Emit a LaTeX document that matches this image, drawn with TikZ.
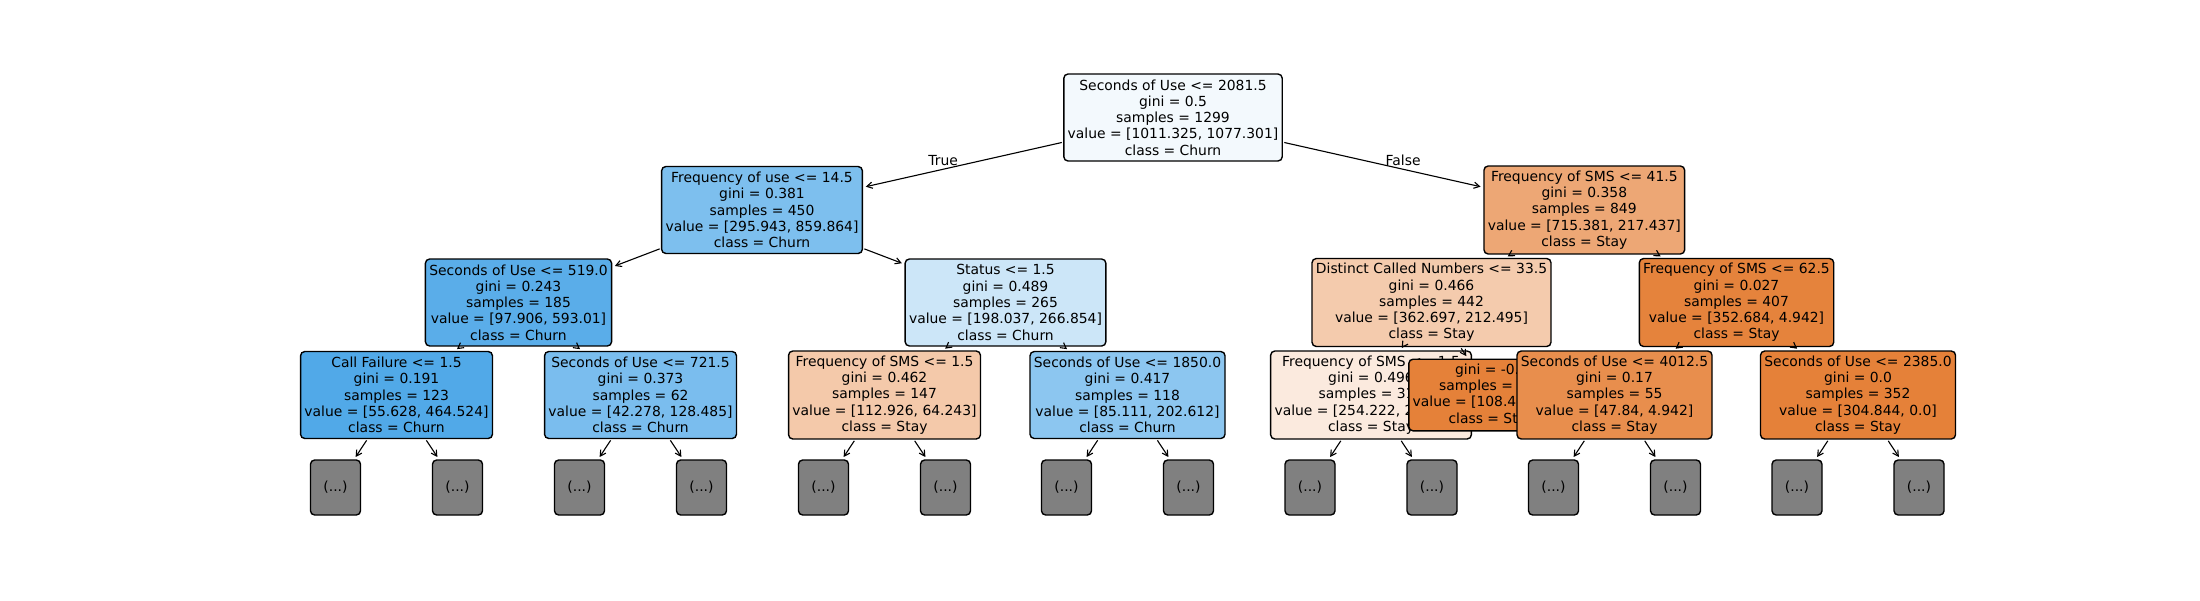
\documentclass[tikz,border=0pt]{standalone}
\usepackage{fontspec}
\setmainfont{DejaVu Sans}
\usetikzlibrary{positioning,arrows.meta}

\definecolor{colRoot}{RGB}{243,249,253}
\definecolor{colL}{RGB}{125,191,238}
\definecolor{colR}{RGB}{237,167,117}
\definecolor{colLL}{RGB}{90,173,233}
\definecolor{colLR}{RGB}{204,230,248}
\definecolor{colRL}{RGB}{244,203,173}
\definecolor{colRR}{RGB}{229,131,60}
\definecolor{colLLL}{RGB}{81,169,232}
\definecolor{colLLR}{RGB}{122,189,238}
\definecolor{colLRL}{RGB}{244,201,170}
\definecolor{colLRR}{RGB}{140,198,240}
\definecolor{colRLL}{RGB}{251,234,222}
\definecolor{colRLR}{RGB}{229,129,57}
\definecolor{colRRL}{RGB}{232,142,77}
\definecolor{colRRR}{RGB}{229,129,57}
\definecolor{colLeaf}{RGB}{128,128,128}

\begin{document}
\begin{tikzpicture}[x=0.72pt, y=-0.72pt,
  split/.style={draw=black, line width=1pt, rounded corners=3pt, align=center,
    inner xsep=2.8pt, minimum height=62.6pt, font=\fontsize{10}{11.74}\selectfont},
  pure/.style={split, minimum height=50.9pt},
  leaf/.style={draw=black, line width=1pt, rounded corners=3pt, fill=colLeaf,
    minimum width=36pt, minimum height=39.6pt, inner sep=0pt, font=\fontsize{10}{11.74}\selectfont},
  edge/.style={-{Straight Barb[length=4pt,width=4.5pt]}, line width=0.8pt,
    shorten >=2pt, shorten <=1pt},
  lbl/.style={font=\fontsize{10}{11.74}\selectfont, inner sep=1pt, above=1pt}]
\useasboundingbox (0,0) rectangle (2200,600);

\def\dy{92.5}
\def\ya{117.5}
\def\yb{\ya + \dy}
\def\yc{\ya + 2 * \dy}
\def\yd{\ya + 3 * \dy}
\def\ye{\ya + 4 * \dy}

\node[split, fill=colRoot] (root) at (1173, \ya) {Seconds of Use <= 2081.5\\gini = 0.5\\samples = 1299\\value = [1011.325, 1077.301]\\class = Churn};

\node[split, fill=colL] (l) at (762, \yb) {Frequency of use <= 14.5\\gini = 0.381\\samples = 450\\value = [295.943, 859.864]\\class = Churn};
\node[split, fill=colLL] (ll) at (518.5, \yc) {Seconds of Use <= 519.0\\gini = 0.243\\samples = 185\\value = [97.906, 593.01]\\class = Churn};
\node[split, fill=colLLL] (lll) at (396.5, \yd) {Call Failure <= 1.5\\gini = 0.191\\samples = 123\\value = [55.628, 464.524]\\class = Churn};
\node[leaf] (lll1) at (335.5, \ye) {(...)};
\node[leaf] (lll2) at (457.5, \ye) {(...)};
\node[split, fill=colLLR] (llr) at (640.5, \yd) {Seconds of Use <= 721.5\\gini = 0.373\\samples = 62\\value = [42.278, 128.485]\\class = Churn};
\node[leaf] (llr1) at (579.5, \ye) {(...)};
\node[leaf] (llr2) at (701.5, \ye) {(...)};
\node[split, fill=colLR] (lr) at (1005.5, \yc) {Status <= 1.5\\gini = 0.489\\samples = 265\\value = [198.037, 266.854]\\class = Churn};
\node[split, fill=colLRL] (lrl) at (884.5, \yd) {Frequency of SMS <= 1.5\\gini = 0.462\\samples = 147\\value = [112.926, 64.243]\\class = Stay};
\node[leaf] (lrl1) at (823.5, \ye) {(...)};
\node[leaf] (lrl2) at (945.5, \ye) {(...)};
\node[split, fill=colLRR] (lrr) at (1127.5, \yd) {Seconds of Use <= 1850.0\\gini = 0.417\\samples = 118\\value = [85.111, 202.612]\\class = Churn};
\node[leaf] (lrr1) at (1066.5, \ye) {(...)};
\node[leaf] (lrr2) at (1188.5, \ye) {(...)};

\node[split, fill=colR] (r) at (1584.3, \yb) {Frequency of SMS <= 41.5\\gini = 0.358\\samples = 849\\value = [715.381, 217.437]\\class = Stay};
\node[split, fill=colRL] (rl) at (1431.5, \yc) {Distinct Called Numbers <= 33.5\\gini = 0.466\\samples = 442\\value = [362.697, 212.495]\\class = Stay};
\node[split, fill=colRLL] (rll) at (1371, \yd) {Frequency of SMS <= 1.5\\gini = 0.496\\samples = 311\\value = [254.222, 212.495]\\class = Stay};
\node[leaf] (rll1) at (1310, \ye) {(...)};
\node[leaf] (rll2) at (1432, \ye) {(...)};
\node[pure, fill=colRLR] (rlr) at (1491.5, \yd) {gini = -0.0\\samples = 131\\value = [108.475, 0.0]\\class = Stay};
\node[split, fill=colRR] (rr) at (1736.5, \yc) {Frequency of SMS <= 62.5\\gini = 0.027\\samples = 407\\value = [352.684, 4.942]\\class = Stay};
\node[split, fill=colRRL] (rrl) at (1614.5, \yd) {Seconds of Use <= 4012.5\\gini = 0.17\\samples = 55\\value = [47.84, 4.942]\\class = Stay};
\node[leaf] (rrl1) at (1553.5, \ye) {(...)};
\node[leaf] (rrl2) at (1675.5, \ye) {(...)};
\node[split, fill=colRRR] (rrr) at (1858, \yd) {Seconds of Use <= 2385.0\\gini = 0.0\\samples = 352\\value = [304.844, 0.0]\\class = Stay};
\node[leaf] (rrr1) at (1797, \ye) {(...)};
\node[leaf] (rrr2) at (1919, \ye) {(...)};

\draw[edge] (root) -- node[lbl, pos=0.6] (true) {True} (l);
\draw[edge] (root) -- node[lbl, pos=0.6] (false) {False} (r);
\draw[edge] (l) -- (ll);
\draw[edge] (l) -- (lr);
\draw[edge] (ll) -- (lll);
\draw[edge] (ll) -- (llr);
\draw[edge] (lr) -- (lrl);
\draw[edge] (lr) -- (lrr);
\draw[edge] (r) -- (rl);
\draw[edge] (r) -- (rr);
\draw[edge] (rl) -- (rll);
\draw[edge] (rl) -- (rlr);
\draw[edge] (rr) -- (rrl);
\draw[edge] (rr) -- (rrr);
\draw[edge] (lll) -- (lll1);
\draw[edge] (lll) -- (lll2);
\draw[edge] (llr) -- (llr1);
\draw[edge] (llr) -- (llr2);
\draw[edge] (lrl) -- (lrl1);
\draw[edge] (lrl) -- (lrl2);
\draw[edge] (lrr) -- (lrr1);
\draw[edge] (lrr) -- (lrr2);
\draw[edge] (rll) -- (rll1);
\draw[edge] (rll) -- (rll2);
\draw[edge] (rrl) -- (rrl1);
\draw[edge] (rrl) -- (rrl2);
\draw[edge] (rrr) -- (rrr1);
\draw[edge] (rrr) -- (rrr2);

\end{tikzpicture}
\end{document}
